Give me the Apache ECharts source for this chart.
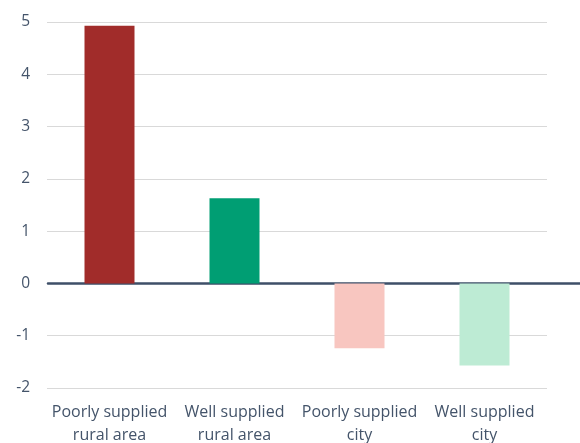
<!DOCTYPE html>
<html>
<head>
<meta charset="utf-8">
<script src="https://cdn.jsdelivr.net/npm/echarts@6/dist/echarts.min.js"></script>
<style>html,body{margin:0;padding:0;background:#fff;}#c{width:580px;height:443px;}</style>
</head>
<body>
<div id="c"></div>
<script>
var categories = ['Poorly supplied\nrural area', 'Well supplied\nrural area', 'Poorly supplied\ncity', 'Well supplied\ncity'];
var values = [4.93, 1.63, -1.24, -1.57];
var barColors = ['#A12C2A', '#009E73', '#F8C6C0', '#BDEBD4'];
var yTicks = { min: -2, max: 5, interval: 1 };

var textColor = '#44546A';
var chart = echarts.init(document.getElementById('c'));
chart.setOption({
  animation: false,
  grid: [
    { left: 47, right: 33, top: 22, bottom: 55, containLabel: false, outerBoundsMode: 'none' },
    { left: 48, right: 0, top: 22, bottom: 55, containLabel: false, outerBoundsMode: 'none' }
  ],
  xAxis: [
    {
      type: 'category', gridIndex: 0, data: categories,
      axisLine: { show: false }, axisTick: { show: false },
      axisLabel: { color: textColor, fontFamily: 'Open Sans', fontSize: 16, lineHeight: 23, margin: 13, interval: 0 }
    },
    {
      type: 'category', gridIndex: 1, data: [''],
      axisLine: { show: true, onZero: true, lineStyle: { color: '#3E4F68', width: 2.5 } },
      axisTick: { show: false }, axisLabel: { show: false }
    }
  ],
  yAxis: [
    {
      type: 'value', gridIndex: 0, min: yTicks.min, max: yTicks.max, interval: yTicks.interval,
      axisLine: { show: false }, axisTick: { show: false },
      axisLabel: { color: textColor, fontFamily: 'Open Sans', fontSize: 15.5, margin: 17 },
      splitLine: { lineStyle: { color: '#D9D9D9', width: 1 } }
    },
    {
      type: 'value', gridIndex: 1, min: yTicks.min, max: yTicks.max, interval: yTicks.interval,
      show: false, splitLine: { show: false }
    }
  ],
  series: [
    {
      type: 'bar', xAxisIndex: 0, yAxisIndex: 0, barWidth: '40%',
      data: values.map(function (v, i) { return { value: v, itemStyle: { color: barColors[i] } }; })
    },
    {
      type: 'bar', xAxisIndex: 1, yAxisIndex: 1, data: [], z: 5
    }
  ]
});
</script>
</body>
</html>
